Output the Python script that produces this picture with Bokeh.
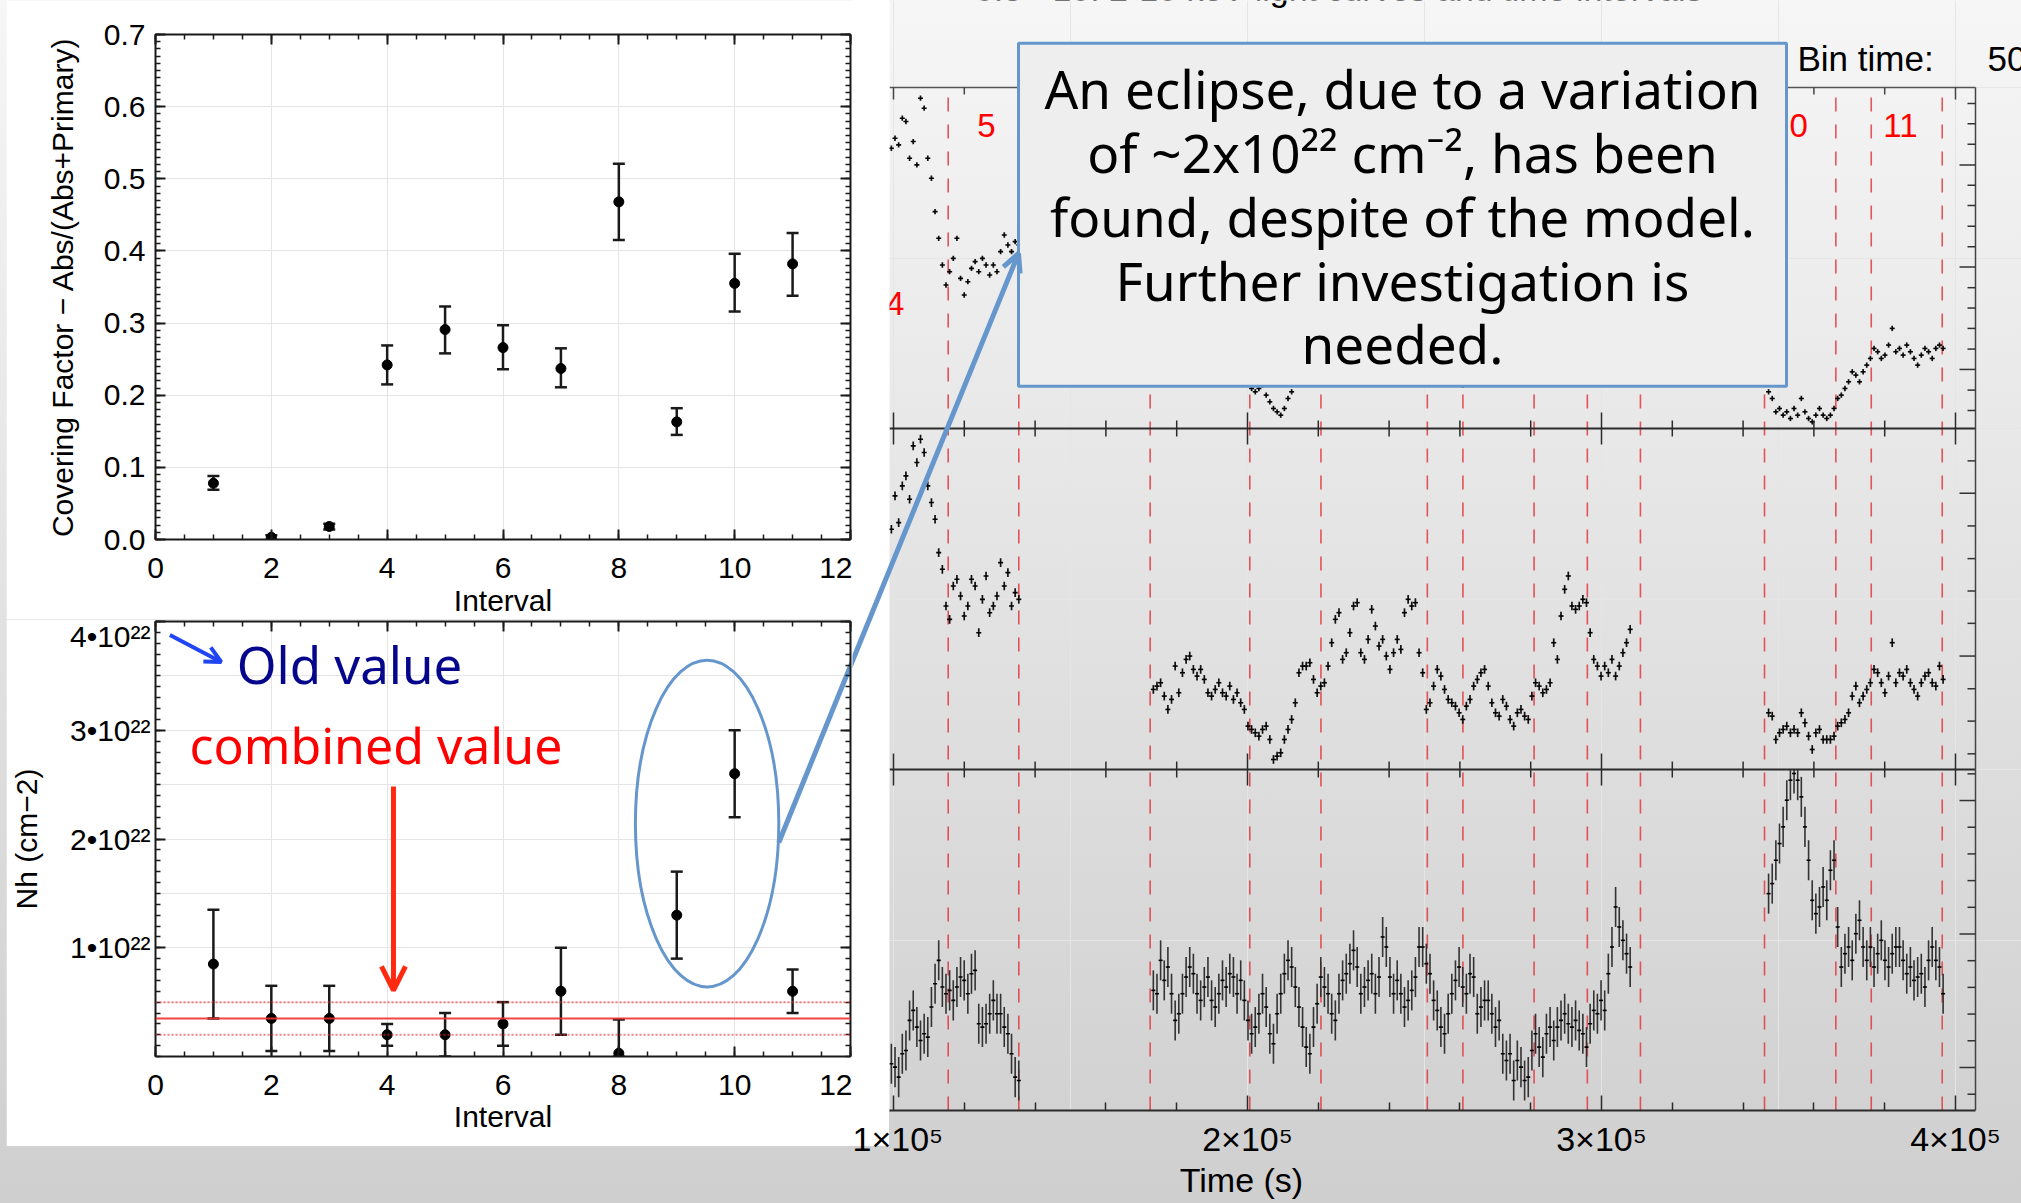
import numpy as np
from bokeh.plotting import figure
from bokeh.models import (Range1d, LinearAxis, FixedTicker, NumeralTickFormatter,
                          CustomJSTickFormatter, Arrow, OpenHead, Span, Spacer,
                          ColumnDataSource)
from bokeh.layouts import row, column
from bokeh.core.properties import value
from bokeh.embed import file_html
from bokeh.resources import INLINE

SANS = "Liberation Sans"
HAND = "Noto Sans"
BLUE = "#6596cc"
INK = "#1a1a1a"
PAGE_BG = "linear-gradient(180deg, #f6f6f6 0%, #cfcfcf 100%)"

# ---------------- spectral fit results per time interval ----------------
interval = [1, 2, 3, 4, 5, 6, 7, 8, 9, 10, 11]
cover    = [0.078, 0.003, 0.018, 0.242, 0.291, 0.266, 0.237, 0.468, 0.163, 0.355, 0.382]
cover_lo = [0.069, 0.000, 0.014, 0.215, 0.258, 0.236, 0.211, 0.415, 0.145, 0.316, 0.338]
cover_hi = [0.088, 0.006, 0.022, 0.269, 0.323, 0.297, 0.265, 0.521, 0.182, 0.396, 0.425]

# column density in units of 1e22 cm^-2
nh    = [0.85, 0.35, 0.35, 0.20, 0.20, 0.30, 0.60, 0.03, 1.30, 2.60, 0.60]
nh_lo = [0.35, 0.05, 0.05, 0.10, 0.00, 0.10, 0.20, 0.00, 0.90, 2.20, 0.40]
nh_hi = [1.35, 0.65, 0.65, 0.30, 0.40, 0.50, 1.00, 0.34, 1.70, 3.00, 0.80]
nh_comb, nh_comb_lo, nh_comb_hi = 0.35, 0.20, 0.50

# ---------------- light curves (three bands), count rate ----------------
seg_edges = [(99400, 135400), (173400, 308100), (347200, 396500)]

soft_a = [0.84, 0.87, 0.85, 0.93, 0.92, 0.81, 0.86, 0.79, 0.99, 0.96,
          0.81, 0.75, 0.65, 0.57, 0.49, 0.43, 0.47, 0.51, 0.57, 0.45,
          0.40, 0.44, 0.48, 0.50, 0.47, 0.51, 0.49, 0.46, 0.49, 0.47,
          0.53, 0.58, 0.55, 0.53, 0.56, 0.55]
soft_b = [0.30, 0.31, 0.32, 0.29, 0.26, 0.28, 0.36, 0.30, 0.34, 0.38,
          0.39, 0.36, 0.34, 0.35, 0.33, 0.30, 0.29, 0.31, 0.32, 0.30,
          0.29, 0.31, 0.28, 0.29, 0.27, 0.25,
          0.14, 0.12, 0.11, 0.12, 0.13, 0.10, 0.08, 0.06, 0.05, 0.04,
          0.06, 0.09, 0.11, 0.14,
          0.30, 0.33, 0.35, 0.36, 0.32, 0.29, 0.31, 0.33, 0.36, 0.41,
          0.46, 0.48, 0.39, 0.40, 0.44, 0.50, 0.52, 0.41, 0.39, 0.43,
          0.49, 0.46, 0.41, 0.43, 0.40, 0.37, 0.40, 0.43, 0.41, 0.50,
          0.53, 0.51, 0.52, 0.40, 0.34, 0.25, 0.26, 0.30, 0.34, 0.32,
          0.29, 0.26, 0.25, 0.24, 0.22,
          0.13,
          0.22, 0.25, 0.29, 0.31, 0.33, 0.34, 0.30, 0.25, 0.22, 0.21,
          0.26, 0.24, 0.20, 0.18, 0.22, 0.21, 0.20, 0.21, 0.19, 0.18,
          0.26, 0.30, 0.29, 0.27, 0.28, 0.30, 0.40, 0.36, 0.48, 0.55,
          0.59, 0.52, 0.51, 0.52, 0.54, 0.53, 0.45, 0.38, 0.36, 0.33,
          0.36, 0.34, 0.33, 0.36, 0.39, 0.43]
soft_c = [0.11, 0.09, 0.05, 0.06, 0.04, 0.05, 0.03, 0.06, 0.04, 0.09,
          0.05, 0.03, 0.02, 0.04, 0.06, 0.04, 0.03, 0.04, 0.06, 0.09,
          0.10, 0.12, 0.14, 0.17, 0.16, 0.14, 0.17, 0.19, 0.21, 0.24,
          0.23, 0.21, 0.22, 0.25, 0.30, 0.23, 0.24, 0.22, 0.25, 0.23,
          0.21, 0.19, 0.22, 0.24, 0.23, 0.21, 0.24, 0.25, 0.24]

mid_a = [0.72, 0.82, 0.74, 0.85, 0.88, 0.81, 0.97, 0.92, 0.99, 0.95,
         0.85, 0.80, 0.75, 0.65, 0.60, 0.49, 0.45, 0.55, 0.57, 0.52,
         0.46, 0.49, 0.57, 0.55, 0.41, 0.51, 0.58, 0.47, 0.49, 0.52,
         0.62, 0.55, 0.59, 0.49, 0.53, 0.51]
mid_b = [0.24, 0.25, 0.26, 0.22, 0.18, 0.21, 0.31, 0.23, 0.29, 0.33,
         0.34, 0.30, 0.28, 0.30, 0.27, 0.23, 0.22, 0.24, 0.26, 0.23,
         0.22, 0.25, 0.21, 0.23, 0.20, 0.18, 0.13, 0.12, 0.11, 0.10,
         0.12, 0.13, 0.09, 0.03, 0.04, 0.05, 0.09, 0.12, 0.15, 0.20,
         0.29, 0.31, 0.31, 0.32, 0.27, 0.23, 0.25, 0.26, 0.31, 0.38,
         0.45, 0.47, 0.33, 0.35, 0.41, 0.49, 0.50, 0.35, 0.33, 0.39,
         0.48, 0.43, 0.37, 0.39, 0.34, 0.30, 0.35, 0.39, 0.36, 0.47,
         0.51, 0.49, 0.50, 0.35, 0.29, 0.18, 0.20, 0.25, 0.30, 0.28,
         0.24, 0.21, 0.20, 0.19, 0.17, 0.15, 0.19, 0.21, 0.25, 0.27,
         0.29, 0.30, 0.25, 0.20, 0.17, 0.16, 0.21, 0.19, 0.15, 0.13,
         0.17, 0.18, 0.16, 0.15, 0.22, 0.26, 0.25, 0.23, 0.24, 0.26,
         0.38, 0.33, 0.46, 0.54, 0.58, 0.49, 0.48, 0.49, 0.51, 0.50,
         0.41, 0.33, 0.31, 0.28, 0.31, 0.29, 0.33, 0.28, 0.31, 0.35,
         0.38, 0.42]
mid_c = [0.17, 0.16, 0.09, 0.11, 0.12, 0.13, 0.11, 0.12, 0.11, 0.17,
         0.14, 0.10, 0.06, 0.11, 0.12, 0.09, 0.09, 0.09, 0.10, 0.13,
         0.14, 0.15, 0.17, 0.22, 0.25, 0.20, 0.22, 0.24, 0.26, 0.30,
         0.29, 0.26, 0.23, 0.28, 0.38, 0.26, 0.29, 0.28, 0.30, 0.26,
         0.24, 0.22, 0.26, 0.28, 0.29, 0.26, 0.25, 0.31, 0.27]

hard_a = [0.14, 0.13, 0.10, 0.17, 0.18, 0.27, 0.30, 0.25, 0.21, 0.23,
          0.22, 0.31, 0.38, 0.45, 0.37, 0.35, 0.36, 0.33, 0.37, 0.40,
          0.39, 0.35, 0.41, 0.42, 0.26, 0.25, 0.26, 0.29, 0.33, 0.29,
          0.29, 0.25, 0.23, 0.17, 0.10, 0.09]
hard_b = [0.36, 0.35, 0.45, 0.39, 0.43, 0.35, 0.27, 0.29, 0.35, 0.40,
          0.43, 0.41, 0.35, 0.33, 0.37, 0.40, 0.33, 0.31, 0.35, 0.39,
          0.37, 0.41, 0.40, 0.35, 0.39, 0.33, 0.27, 0.23, 0.25, 0.29,
          0.35, 0.31, 0.23, 0.20, 0.29, 0.35, 0.41, 0.45, 0.43, 0.37,
          0.31, 0.25, 0.19, 0.17, 0.25, 0.32, 0.40, 0.37, 0.35, 0.29,
          0.27, 0.35, 0.39, 0.41, 0.44, 0.48, 0.43, 0.35, 0.37, 0.39,
          0.41, 0.35, 0.40, 0.52, 0.49, 0.40, 0.35, 0.39, 0.35, 0.31,
          0.33, 0.36, 0.40, 0.49, 0.49, 0.44, 0.41, 0.33, 0.30, 0.25,
          0.23, 0.29, 0.35, 0.39, 0.43, 0.37, 0.35, 0.41, 0.40, 0.29,
          0.31, 0.33, 0.33, 0.29, 0.25, 0.27, 0.17, 0.15, 0.17, 0.09,
          0.15, 0.13, 0.09, 0.10, 0.18, 0.23, 0.19, 0.16, 0.23, 0.25,
          0.21, 0.25, 0.27, 0.29, 0.26, 0.25, 0.27, 0.24, 0.23, 0.19,
          0.26, 0.30, 0.29, 0.33, 0.30, 0.41, 0.49, 0.61, 0.55, 0.51,
          0.47, 0.43]
hard_c = [0.65, 0.68, 0.75, 0.80, 0.85, 0.93, 0.99, 1.01, 0.99, 0.94,
          0.85, 0.75, 0.63, 0.59, 0.61, 0.67, 0.63, 0.72, 0.75, 0.55,
          0.43, 0.47, 0.49, 0.45, 0.53, 0.57, 0.49, 0.45, 0.49, 0.43,
          0.47, 0.51, 0.45, 0.43, 0.47, 0.49, 0.49, 0.45, 0.41, 0.43,
          0.39, 0.40, 0.41, 0.37, 0.45, 0.49, 0.45, 0.43, 0.35]

err_soft, err_mid, err_hard = 0.008, 0.013, 0.06
rate_max = 1.022          # upper edge of every light-curve panel

# time-interval boundaries and their labels
interval_cuts = [115450, 135400, 172500, 200650, 220750, 250800, 260850,
                 280950, 296000, 311000, 346050, 366200, 376200, 396250]
interval_names = ["4", "5", "10", "11"]
interval_name_t = [100480, 126270, 353100, 384460]
interval_name_rate = [0.375, 0.909, 0.909, 0.909]

t_major = [100000, 200000, 300000, 400000]
t_minor = [t for t in range(100000, 400001, 20000) if t % 100000]

# right-hand y ticks of each panel (count rate)
soft_ticks_major = [0.177, 0.484, 0.790]
soft_ticks_minor = [0.054, 0.115, 0.238, 0.300, 0.361, 0.422, 0.545, 0.606,
                    0.668, 0.729, 0.852, 0.913, 0.974]
mid_ticks_major = [0.340, 0.828]
mid_ticks_minor = [0.047, 0.145, 0.242, 0.438, 0.535, 0.632, 0.730, 0.925]
hard_ticks_major = [0.129, 0.529, 0.929]
hard_ticks_minor = [0.049, 0.209, 0.289, 0.369, 0.449, 0.609, 0.689, 0.769,
                    0.849, 1.009]


# ======================= left: fit results =======================
def style_axis(ax, labelled):
    ax.axis_line_color = INK
    ax.axis_line_width = 2
    ax.major_tick_line_color = INK
    ax.major_tick_line_width = 2
    ax.minor_tick_line_color = INK
    ax.minor_tick_line_width = 1.5
    ax.major_tick_in = 10
    ax.major_tick_out = 0
    ax.minor_tick_in = 5
    ax.minor_tick_out = 0
    ax.major_label_text_font = SANS
    ax.major_label_text_color = "black"
    ax.major_label_text_font_size = "30px" if labelled else "0px"
    ax.axis_label_text_font = SANS
    ax.axis_label_text_font_size = "30px"
    ax.axis_label_text_font_style = "normal"
    ax.axis_label_text_color = "black"
    if not labelled:
        ax.major_label_standoff = 0
        ax.formatter = CustomJSTickFormatter(code="return ''")


def boxed_axes(p, xticks, xminor, yticks, yminor, yfmt, xlabel, ylabel,
               x_std, xlab_std, y_std, ylab_std):
    xt = FixedTicker(ticks=xticks, minor_ticks=xminor)
    yt = FixedTicker(ticks=yticks, minor_ticks=yminor)
    below = LinearAxis(ticker=xt, formatter=NumeralTickFormatter(format="0"),
                       axis_label=xlabel)
    left = LinearAxis(ticker=yt, formatter=yfmt, axis_label=ylabel)
    above = LinearAxis(ticker=xt)
    right = LinearAxis(ticker=yt)
    style_axis(below, True)
    style_axis(left, True)
    style_axis(above, False)
    style_axis(right, False)
    below.major_label_standoff = x_std
    below.axis_label_standoff = xlab_std
    left.major_label_standoff = y_std
    left.axis_label_standoff = ylab_std
    p.add_layout(below, "below")
    p.add_layout(left, "left")
    p.add_layout(above, "above")
    p.add_layout(right, "right")


def points_with_errors(p, x, y, lo, hi):
    p.segment(x0=x, y0=lo, x1=x, y1=hi, line_color=INK, line_width=2.5)
    p.scatter(x=x, y=lo, marker="dash", size=12, line_color=INK, line_width=2.5)
    p.scatter(x=x, y=hi, marker="dash", size=12, line_color=INK, line_width=2.5)
    p.scatter(x=x, y=y, marker="circle", size=10, fill_color="black",
              line_color="black")


x_major = [0, 2, 4, 6, 8, 10, 12]
x_minor = list(np.arange(0, 12.01, 0.5))

figA = figure(width=846, height=619, x_range=Range1d(0, 12), y_range=Range1d(0, 0.7),
              output_backend="svg", toolbar_location=None,
              x_axis_location=None, y_axis_location=None,
              min_border_left=146, min_border_right=2, min_border_top=34,
              min_border_bottom=80, background_fill_color="white",
              border_fill_color="white", outline_line_color=None)
boxed_axes(figA, x_major, x_minor,
           [0.0, 0.1, 0.2, 0.3, 0.4, 0.5, 0.6, 0.7],
           list(np.round(np.arange(0, 0.7001, 0.01), 3)),
           NumeralTickFormatter(format="0.0"),
           "Interval", "Covering Factor \u2212 Abs/(Abs+Primary)",
           18, 3, 10, 22)
points_with_errors(figA, interval, cover, cover_lo, cover_hi)

figB = figure(width=846, height=527, x_range=Range1d(0, 12), y_range=Range1d(0, 4),
              output_backend="svg", toolbar_location=None,
              x_axis_location=None, y_axis_location=None,
              min_border_left=146, min_border_right=2, min_border_top=2,
              min_border_bottom=90, background_fill_color="white",
              border_fill_color="white", outline_line_color=None)
boxed_axes(figB, x_major, x_minor, [1, 2, 3, 4],
           list(np.round(np.arange(0, 4.001, 0.1), 2)),
           CustomJSTickFormatter(code="return tick.toFixed(0) + '\u2022' + '10\u00b2\u00b2';"),
           "Interval", "Nh (cm\u22122)",
           18, 2, 5, 24)

for loc, dash, alpha in [(nh_comb, "solid", 0.9), (nh_comb_lo, "2 2", 0.6),
                         (nh_comb_hi, "2 2", 0.6)]:
    figB.add_layout(Span(location=loc, dimension="width", line_color="#f03030",
                         line_width=2, line_dash=dash, line_alpha=alpha))
points_with_errors(figB, interval, nh, nh_lo, nh_hi)

figB.text(x=[1.401], y=[3.606], text=["Old value"], text_font=value(HAND),
          text_font_size="51px", text_color="#06068c", text_baseline="middle")
figB.text(x=[0.585], y=[2.860], text=["combined value"], text_font=value(HAND),
          text_font_size="50px", text_color="#ff0000", text_baseline="middle")
figB.add_layout(Arrow(end=OpenHead(size=16, line_color="#1f45f5", line_width=4),
                      x_start=0.249, y_start=3.875, x_end=1.135, y_end=3.628,
                      line_color="#1f45f5", line_width=4))
figB.add_layout(Arrow(end=OpenHead(size=24, line_color="#ff2a10", line_width=5),
                      x_start=4.109, y_start=2.483, x_end=4.109, y_end=0.607,
                      line_color="#ff2a10", line_width=5))
figB.ellipse(x=[9.524], y=[2.142], width=[2.476], height=[3.007],
             fill_color=None, line_color=BLUE, line_width=3)
# connector from the circled points towards the note (continues on the right)
figB.segment(x0=[10.762], y0=[1.968], x1=[12.739], y1=[4.561],
             line_color=BLUE, line_width=5)

# ======================= right: light curves =======================
PX_PER_S = 354 / 1e5
PANEL_PX = 341
t_lo = 88418                 # left edge of this canvas
t_hi = t_lo + 1169 / PX_PER_S
t_start = 98870              # where the light-curve box becomes visible
t_edge = 405650              # right border of the light-curve box
y_top = 1110 / PANEL_PX

figR = figure(width=1169, height=1203, x_range=Range1d(t_lo, t_hi),
              y_range=Range1d(0, y_top), output_backend="svg",
              toolbar_location=None, x_axis_location=None, y_axis_location=None,
              min_border_left=0, min_border_right=0, min_border_top=0,
              min_border_bottom=93, background_fill_alpha=0, border_fill_alpha=0,
              outline_line_color=None,
              styles={"background": "linear-gradient(#ffffff, #ffffff) 0 0 / 37px 1146px "
                                    "no-repeat, " + PAGE_BG})
# each band gets its own count-rate scale on one third of the frame
figR.extra_y_ranges = {
    "soft": Range1d(-2 * rate_max, (y_top - 2) * rate_max),
    "mid": Range1d(-1 * rate_max, (y_top - 1) * rate_max),
    "hard": Range1d(0, y_top * rate_max),
}

# the axis title sits left of the frame centre (under the full time range of
# the light curves); trailing em spaces move the centred title there
xax = LinearAxis(ticker=FixedTicker(ticks=t_major, minor_ticks=t_minor),
                 formatter=CustomJSTickFormatter(
                     code="return (tick/1e5).toFixed(0) + '\u00d710\u2075';"),
                 bounds=(t_start, t_edge),
                 axis_label="Time (s)" + "\u2003" * 11 + "\u2002")
xax.axis_line_color = "#2b2b2b"
xax.axis_line_width = 2
xax.major_tick_in = 15
xax.major_tick_out = 0
xax.minor_tick_in = 8
xax.minor_tick_out = 0
xax.major_tick_line_color = "#2b2b2b"
xax.minor_tick_line_color = "#2b2b2b"
xax.major_tick_line_width = 1.5
xax.minor_tick_line_width = 1.5
xax.major_label_text_font = SANS
xax.major_label_text_font_size = "34px"
xax.major_label_text_color = "black"
xax.major_label_standoff = 9
xax.axis_label_standoff = 0
xax.axis_label_text_font = SANS
xax.axis_label_text_font_size = "34px"
xax.axis_label_text_font_style = "normal"
xax.axis_label_text_color = "black"
figR.add_layout(xax, "below")


def band_source(parts, err):
    t, v = [], []
    for (t0, t1), vals in zip(seg_edges, parts):
        t.extend(np.linspace(t0, t1, len(vals)))
        v.extend(vals)
    v = np.array(v)
    return ColumnDataSource(dict(t=np.array(t), v=v, lo=v - err,
                                 hi=np.minimum(v + err, rate_max)))


bands = [("soft", band_source([soft_a, soft_b, soft_c], err_soft), 1.7, "#111111", 5),
         ("mid", band_source([mid_a, mid_b, mid_c], err_mid), 1.7, "#111111", 5),
         ("hard", band_source([hard_a, hard_b, hard_c], err_hard), 1.6, "#333333", 4)]

# interval boundaries
figR.segment(x0=interval_cuts, y0=0, x1=interval_cuts, y1=3, line_color="#e0393e",
             line_width=1.6, line_alpha=0.85, line_dash="14 13")

for name, src, lw, col, msize in bands:
    figR.segment(x0="t", y0="lo", x1="t", y1="hi", source=src, y_range_name=name,
                 line_color=col, line_width=lw)
    figR.scatter(x="t", y="v", source=src, y_range_name=name, marker="dash",
                 size=msize, line_color="#000000", line_width=1.6)

# panel frames
figR.segment(x0=t_start, y0=[1, 2, 3], x1=t_edge, y1=[1, 2, 3],
             line_color=["#2b2b2b", "#2b2b2b", "#555555"], line_width=[2.2, 2.2, 1.5])
figR.segment(x0=[t_edge], y0=[0], x1=[t_edge], y1=[3], line_color="#444444",
             line_width=1.5)


def px_y(n):
    return n / PANEL_PX


for yb in [1, 2]:
    figR.segment(x0=t_major, y0=yb - px_y(16), x1=t_major, y1=yb + px_y(16),
                 line_color="#2b2b2b", line_width=1.5)
    figR.segment(x0=t_minor, y0=yb - px_y(8), x1=t_minor, y1=yb + px_y(8),
                 line_color="#2b2b2b", line_width=1.5)
figR.segment(x0=t_major, y0=3 - px_y(12), x1=t_major, y1=3, line_color="#444444",
             line_width=1.5)
figR.segment(x0=t_minor, y0=3 - px_y(7), x1=t_minor, y1=3, line_color="#444444",
             line_width=1.5)

for name, tmaj, tmin in [("soft", soft_ticks_major, soft_ticks_minor),
                         ("mid", mid_ticks_major, mid_ticks_minor),
                         ("hard", hard_ticks_major, hard_ticks_minor)]:
    figR.segment(x0=t_edge - 16 / PX_PER_S, y0=tmaj, x1=t_edge, y1=tmaj,
                 y_range_name=name, line_color="#333333", line_width=1.5)
    figR.segment(x0=t_edge - 8 / PX_PER_S, y0=tmin, x1=t_edge, y1=tmin,
                 y_range_name=name, line_color="#333333", line_width=1.5)

figR.text(x=interval_name_t, y=interval_name_rate, text=interval_names,
          y_range_name="soft", text_align="center", text_baseline="middle",
          text_font=value(SANS), text_font_size="33px", text_color="#ff0000")

figR.text(x=[328531], y=[3.2874],
          text=["0.3 - 10: 2-10 keV light curves and time intervals"],
          text_align="right", text_baseline="middle", text_font=value(SANS),
          text_font_size="34px", text_color="black")
figR.text(x=[355367, 409040], y=[3.0850, 3.0850], text=["Bin time:", "5000.0 s"],
          text_align="left", text_baseline="middle", text_font=value(SANS),
          text_font_size="35px", text_color="black")

# white slide panel continues over the left end of the light curves
figR.quad(left=[t_lo], right=[t_start], bottom=[0], top=[y_top],
          fill_color="white", line_color=None)

# callout
figR.quad(left=[135311], right=[352260], bottom=[2.1241], top=[3.1299],
          fill_color="#eeeeee", line_color=BLUE, line_width=3)
callout = ["An eclipse, due to a variation",
           "of ~2x10\u00b2\u00b2 cm\u207b\u00b2, has been",
           "found, despite of the model.",
           "Further investigation is",
           "needed."]
figR.text(x=[243785] * 5, y=[2.9971, 2.8094, 2.6217, 2.4340, 2.2493], text=callout,
          text_align="center", text_baseline="middle", text_font=value(HAND),
          text_font_size="53px", text_color="black")
figR.add_layout(Arrow(end=OpenHead(size=18, line_color=BLUE, line_width=5),
                      x_start=85028, y_start=1.2323, x_end=135311, y_end=2.5132,
                      line_color=BLUE, line_width=5))

root = row(Spacer(width=6, height=1203), column(figA, figB), figR,
           styles={"background": PAGE_BG})

open("out.html", "w").write(file_html(root, INLINE))
